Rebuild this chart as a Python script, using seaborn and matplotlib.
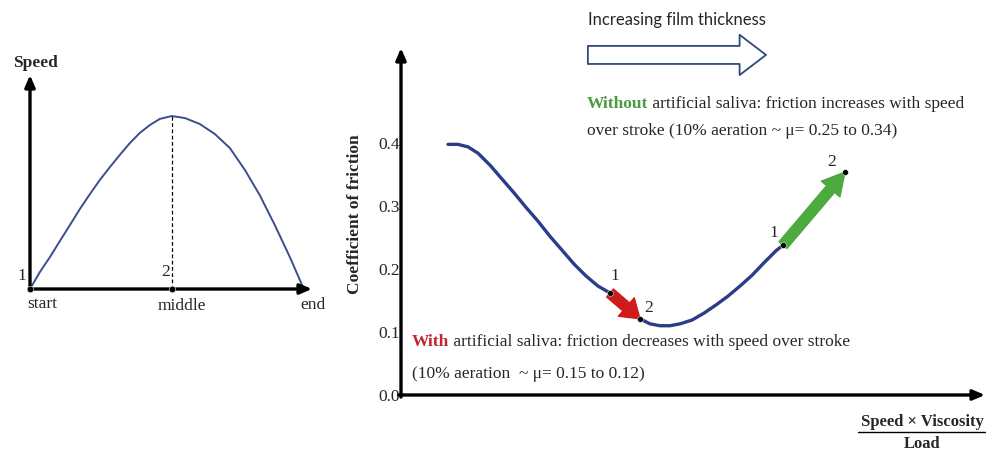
"""Stroke speed profile and Stribeck-type friction curve, with/without artificial saliva."""
import matplotlib
matplotlib.use("Agg")
import matplotlib.pyplot as plt
import seaborn as sns

# --- data ---------------------------------------------------------------
# left panel: speed over one stroke (normalised)
stroke_pos = [0.0, 0.036, 0.073, 0.109, 0.146, 0.182, 0.219, 0.255, 0.292, 0.328,
              0.365, 0.401, 0.438, 0.474, 0.518, 0.566, 0.620, 0.675, 0.730, 0.785,
              0.839, 0.894, 0.949, 1.0]
stroke_speed = [0.0, 0.098, 0.185, 0.277, 0.370, 0.462, 0.549, 0.630, 0.705, 0.775,
                0.844, 0.902, 0.948, 0.983, 1.0, 0.988, 0.954, 0.896, 0.815, 0.688,
                0.543, 0.370, 0.185, 0.0]
stroke_labels = ["start", "middle", "end"]
stroke_label_pos = [0.0, 0.518, 1.0]

# right panel: coefficient of friction vs (speed*viscosity/load), arbitrary x units
hersey = [0.805, 0.976, 1.147, 1.318, 1.524, 1.729, 1.935, 2.140, 2.346, 2.551,
          2.757, 2.962, 3.168, 3.373, 3.579, 3.750, 3.921, 4.092, 4.264, 4.435,
          4.606, 4.777, 4.983, 5.188, 5.394, 5.599, 5.805, 6.010, 6.216, 6.421,
          6.541, 6.832, 7.089, 7.346, 7.603]
mu = [0.398, 0.398, 0.394, 0.384, 0.365, 0.343, 0.321, 0.298, 0.276, 0.252,
      0.230, 0.208, 0.189, 0.173, 0.162, 0.148, 0.132, 0.121, 0.113, 0.110,
      0.110, 0.113, 0.119, 0.130, 0.143, 0.157, 0.173, 0.190, 0.210, 0.229,
      0.238, 0.270, 0.297, 0.325, 0.354]
mu_ticks = [0.0, 0.1, 0.2, 0.3, 0.4]
saliva_idx = (14, 17)     # with artificial saliva: point 1 -> point 2
dry_idx = (30, 34)        # without artificial saliva: point 1 -> point 2

NAVY = "#2B3C88"
RED = "#D01B1B"
GREEN = "#4DAA3F"
FS = 12.5
PX = 0.72  # pixels -> points at dpi 100

sns.set_style("white")
plt.rcParams["font.family"] = ["Liberation Serif", "DejaVu Serif"]
plt.rcParams["axes.unicode_minus"] = False

fig = plt.figure(figsize=(9.86, 4.55), dpi=100)


def axis_arrows(ax):
    for spine in ax.spines.values():
        spine.set_visible(False)
    style = dict(arrowstyle="-|>,head_length=0.7,head_width=0.3", lw=2.4,
                 color="black", shrinkA=0, shrinkB=0)
    ax.annotate("", xy=(1, 0), xytext=(-0.004, 0), xycoords="axes fraction",
                arrowprops=style, annotation_clip=False)
    ax.annotate("", xy=(0, 1), xytext=(0, -0.006), xycoords="axes fraction",
                arrowprops=style, annotation_clip=False)


# ---------------- left panel ----------------
axl = fig.add_axes([30 / 986, 166 / 455, 282 / 986, 214 / 455])
axl.set_xlim(0, 1.03)
axl.set_ylim(0, 1.237)
axis_arrows(axl)
axl.set_xticks([])
axl.set_yticks([])
sns.lineplot(x=stroke_pos, y=stroke_speed, ax=axl, color="#3D4C8E", lw=1.4, sort=False)
axl.lines[-1].set_solid_joinstyle("round")
peak = stroke_speed.index(max(stroke_speed))
axl.plot([stroke_pos[peak]] * 2, [0, stroke_speed[peak]], ls=(0, (3, 2)), color="black", lw=0.9)
sns.scatterplot(x=[stroke_pos[0], stroke_pos[peak]], y=[0, 0], ax=axl, color="black",
                s=22, zorder=5, clip_on=False)
for lab, pos, dx, dy in zip(stroke_labels, stroke_label_pos, [12, 10, 9], [-15, -17, -16]):
    axl.annotate(lab, xy=(pos, 0), xytext=(dx * PX, dy * PX), textcoords="offset points",
                 ha="center", va="center", fontsize=FS, annotation_clip=False)
axl.annotate("1", xy=(stroke_pos[0], 0), xytext=(-8 * PX, 13 * PX), textcoords="offset points",
             ha="center", va="center", fontsize=FS, annotation_clip=False)
axl.annotate("2", xy=(stroke_pos[peak], 0), xytext=(-6 * PX, 17 * PX), textcoords="offset points",
             ha="center", va="center", fontsize=FS, annotation_clip=False)
fig.text(36 / 986, 1 - 63 / 455, "Speed", ha="center", va="center",
         fontsize=FS, fontweight="bold")

# ---------------- right panel ----------------
axr = fig.add_axes([401 / 986, 60 / 455, 584 / 986, 347 / 455])
axr.set_xlim(0, 10)
axr.set_ylim(0, 0.551)
axis_arrows(axr)
axr.set_xticks([])
axr.set_yticks(mu_ticks)
axr.set_yticklabels([f"{t:.1f}" for t in mu_ticks], fontsize=FS)
axr.tick_params(axis="y", length=0, pad=1)

sns.lineplot(x=hersey, y=mu, ax=axr, color=NAVY, lw=2.4, sort=False)
axr.lines[-1].set_solid_joinstyle("round")
axr.lines[-1].set_solid_capstyle("round")

fat = "simple,head_length={hl},head_width={hw},tail_width={tw}"
for (i0, i1), col, hl in [(saliva_idx, RED, 1.3), (dry_idx, GREEN, 1.6)]:
    axr.annotate("", xy=(hersey[i1], mu[i1]), xytext=(hersey[i0], mu[i0]),
                 arrowprops=dict(arrowstyle=fat.format(hl=hl, hw=1.75, tw=0.75),
                                 fc=col, ec=col, mutation_scale=10, shrinkA=0, shrinkB=0),
                 zorder=4)

pts = [saliva_idx[0], saliva_idx[1], dry_idx[0], dry_idx[1]]
sns.scatterplot(x=[hersey[i] for i in pts], y=[mu[i] for i in pts], ax=axr,
                color="black", s=18, zorder=6)
for i, lab, dx, dy in zip(pts, ["1", "2", "1", "2"], [5, 9, -9, -13], [17, 11, 12, 10]):
    axr.annotate(lab, xy=(hersey[i], mu[i]), xytext=(dx * PX, dy * PX),
                 textcoords="offset points", ha="center", va="center", fontsize=FS)

axr.set_ylabel("")
fig.text(355 / 986, 1 - 214 / 455, "Coefficient of friction", rotation=90,
         ha="center", va="center", fontsize=12.5, fontweight="bold")

# x label as a fraction
fig.text(922 / 986, 1 - 422 / 455, "Speed × Viscosity", ha="center", va="center",
         fontsize=12, fontweight="bold")
fig.add_artist(plt.Line2D([858 / 986, 985 / 986], [1 - 432 / 455] * 2, color="black", lw=1))
fig.text(922 / 986, 1 - 444 / 455, "Load", ha="center", va="center",
         fontsize=12, fontweight="bold")

# film thickness arrow
axr.text(3.2, 0.595, "Increasing film thickness", ha="left", va="center",
         fontsize=12, family=["Lato", "DejaVu Sans"], clip_on=False)
axr.annotate("", xy=(6.25, 0.54), xytext=(3.2, 0.54),
             arrowprops=dict(arrowstyle=fat.format(hl=1.9, hw=2.9, tw=1.3),
                             fc="white", ec="#2E4A7A", lw=1.3, mutation_scale=10,
                             shrinkA=0, shrinkB=0),
             annotation_clip=False)

# annotations
t = axr.text(3.18, 0.456, "Without", color="#4C9A44", fontsize=FS, fontweight="bold",
             va="baseline", ha="left")
axr.annotate(" artificial saliva: friction increases with speed", xy=(1, 0),
             xycoords=t, va="bottom", ha="left", fontsize=FS)
axr.text(3.18, 0.413, "over stroke (10% aeration ~ μ= 0.25 to 0.34)", fontsize=FS,
         va="baseline", ha="left")

t = axr.text(0.19, 0.078, "With", color="#C0282E", fontsize=FS, fontweight="bold",
             va="baseline", ha="left")
axr.annotate(" artificial saliva: friction decreases with speed over stroke", xy=(1, 0),
             xycoords=t, va="bottom", ha="left", fontsize=FS)
axr.text(0.19, 0.027, "(10% aeration  ~ μ= 0.15 to 0.12)", fontsize=FS,
         va="baseline", ha="left")

fig.savefig("out.png", dpi=100, facecolor="white")
